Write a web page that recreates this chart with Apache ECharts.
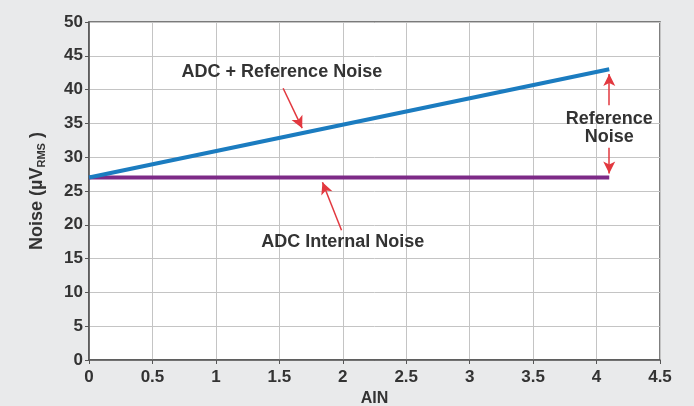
<!DOCTYPE html>
<html><head><meta charset="utf-8">
<script src="https://cdn.jsdelivr.net/npm/echarts@6/dist/echarts.min.js"></script>
<style>html,body{margin:0;padding:0;background:#e9eaeb;}#c{width:694px;height:406px;}</style>
</head><body><div id="c"></div>
<script>
const xTicks = [0, 0.5, 1, 1.5, 2, 2.5, 3, 3.5, 4, 4.5];
const yTicks = [0, 5, 10, 15, 20, 25, 30, 35, 40, 45, 50];
const ainX = [0, 4.1];
const adcRefNoise = [27, 43];
const adcInternalNoise = [27, 27];
const labels = ["ADC + Reference Noise", "ADC Internal Noise", "Reference\nNoise"];
const labelPos = [[1.52, 42.6], [2.0, 17.5], [4.1, 34.3]];
const arrows = [
  [[1.53, 40.2], [1.68, 34.3]],
  [[1.99, 19.2], [1.84, 26.3]],
  [[4.1, 37.7], [4.1, 42.3]],
  [[4.1, 31.4], [4.1, 27.6]]
];

const font = '"Liberation Sans", Arial, sans-serif';
const chart = echarts.init(document.getElementById('c'));
chart.setOption({
  backgroundColor: '#e9eaeb',
  animation: false,
  grid: {left: 89, right: 34, top: 22, bottom: 46, containLabel: false, outerBoundsMode: 'none',
    show: true, backgroundColor: '#ffffff', borderColor: '#555', borderWidth: 1.5},
  xAxis: {
    type: 'value', min: 0, max: 4.5, interval: 0.5,
    name: 'AIN', nameLocation: 'middle', nameGap: 31,
    nameTextStyle: {fontFamily: font, fontWeight: 'bold', fontSize: 16, color: '#333'},
    axisLine: {show: true, lineStyle: {color: '#555', width: 1.5}},
    axisTick: {show: true, length: 4, lineStyle: {color: '#555'}},
    axisLabel: {fontFamily: font, fontWeight: 'bold', fontSize: 17, color: '#333', margin: 9,
      formatter: v => String(v)},
    splitLine: {show: true, lineStyle: {color: '#c4c4c4', width: 1}}
  },
  yAxis: {
    type: 'value', min: 0, max: 50, interval: 5,
    name: '{a|Noise (µV}{s|RMS}{a| )}', nameLocation: 'middle', nameGap: 42, nameRotate: 90,
    nameTextStyle: {rich: {
      a: {fontFamily: font, fontWeight: 'bold', fontSize: 18, color: '#333'},
      s: {fontFamily: font, fontWeight: 'bold', fontSize: 11, color: '#333', verticalAlign: 'bottom', padding: [8, 0, 0, 0]}
    }},
    axisLine: {show: true, lineStyle: {color: '#555', width: 1.5}},
    axisTick: {show: true, length: 4, lineStyle: {color: '#555'}},
    axisLabel: {fontFamily: font, fontWeight: 'bold', fontSize: 17, color: '#333', margin: 6},
    splitLine: {show: true, lineStyle: {color: '#c4c4c4', width: 1}}
  },
  series: [
    {
      type: 'line', name: 'ADC Internal Noise', showSymbol: false, symbol: 'none',
      data: ainX.map((x, i) => [x, adcInternalNoise[i]]),
      lineStyle: {color: '#7d2a87', width: 4}, z: 3
    },
    {
      type: 'line', name: 'ADC + Reference Noise', showSymbol: false, symbol: 'none',
      data: ainX.map((x, i) => [x, adcRefNoise[i]]),
      lineStyle: {color: '#1b7cc0', width: 4}, z: 4,
      markPoint: {
        symbol: 'circle', symbolSize: 0, silent: true,
        label: {show: true, position: 'inside', fontFamily: font, fontWeight: 'bold', fontSize: 18, color: '#333', lineHeight: 18},
        data: labels.map((t, i) => ({coord: labelPos[i], value: t, label: {formatter: t}}))
      },
      markLine: {
        silent: true, symbol: ['none', 'arrow'], symbolSize: [9, 12], precision: 3,
        label: {show: false},
        lineStyle: {color: '#e2383f', width: 1.5, type: 'solid'},
        data: arrows.map(a => [{coord: a[0]}, {coord: a[1]}])
      }
    }
  ]
});
</script></body></html>
